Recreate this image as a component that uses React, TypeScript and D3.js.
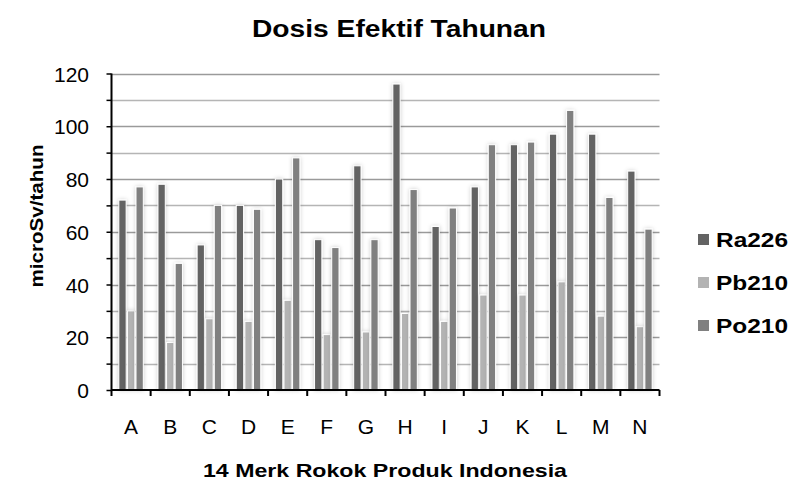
import * as d3 from 'd3'
import { useEffect, useRef } from 'react'

const categories = ['A', 'B', 'C', 'D', 'E', 'F', 'G', 'H', 'I', 'J', 'K', 'L', 'M', 'N']
const seriesNames = ['Ra226', 'Pb210', 'Po210']
const ra226 = [72, 78, 55, 70, 80, 57, 85, 116, 62, 77, 93, 97, 97, 83]
const pb210 = [30, 18, 27, 26, 34, 21, 22, 29, 26, 36, 36, 41, 28, 24]
const po210 = [77, 48, 70, 68.5, 88, 54, 57, 76, 69, 93, 94, 106, 73, 61]
const yTicks = [0, 20, 40, 60, 80, 100, 120]
const colors = ['#636363', '#b3b3b3', '#808080']

const App = () => {
  const ref = useRef<HTMLDivElement>(null)

  useEffect(() => {
    if (!ref.current) return
    document.body.style.margin = '0'
    document.body.style.overflow = 'hidden'
    d3.select(ref.current).select('svg').remove()

    const width = 792
    const height = 482
    const left = 111.5
    const right = 659.5
    const top = 73.5
    const bottom = 390

    const svg = d3
      .select(ref.current)
      .append('svg')
      .attr('width', width)
      .attr('height', height)
      .style('display', 'block')
      .style('font-family', 'Arial, "Liberation Sans", sans-serif')

    const defs = svg.append('defs')
    defs
      .append('filter')
      .attr('id', 'glow')
      .attr('x', '-60%')
      .attr('y', '-10%')
      .attr('width', '220%')
      .attr('height', '120%')
      .append('feDropShadow')
      .attr('dx', 0)
      .attr('dy', 0)
      .attr('stdDeviation', 2)
      .attr('flood-color', '#000')
      .attr('flood-opacity', 0.2)

    const x0 = d3.scaleBand().domain(categories).range([left, right]).paddingInner(0.375).paddingOuter(0.1875)
    const x1 = d3.scaleBand().domain(seriesNames).range([0, x0.bandwidth()]).paddingInner(0.15)
    const y = d3.scaleLinear().domain([0, 120]).range([bottom, top])

    // grid every 10
    const gridVals = d3.range(10, 121, 10)
    svg
      .append('g')
      .selectAll('line')
      .data(gridVals)
      .enter()
      .append('line')
      .attr('x1', left)
      .attr('x2', right)
      .attr('y1', (d) => Math.round(y(d)) + 0.5)
      .attr('y2', (d) => Math.round(y(d)) + 0.5)
      .attr('stroke', (d) => (d % 20 === 0 ? '#9a9a9a' : '#b5b5b5'))
      .attr('stroke-width', 1.3)

    const data = [ra226, pb210, po210]
    const rows = categories.map((c, i) => ({
      cat: c,
      vals: seriesNames.map((s, j) => ({ s, v: data[j][i], color: colors[j] })),
    }))

    const groups = svg
      .append('g')
      .selectAll('g')
      .data(rows)
      .enter()
      .append('g')
      .attr('transform', (d) => `translate(${x0(d.cat)},0)`)

    groups
      .selectAll('rect')
      .data((d) => d.vals)
      .enter()
      .append('rect')
      .attr('x', (d) => x1(d.s)!)
      .attr('width', x1.bandwidth())
      .attr('y', (d) => y(d.v))
      .attr('height', (d) => bottom - y(d.v))
      .attr('fill', (d) => d.color)
      .attr('stroke', '#fff')
      .attr('stroke-width', 1)
      .attr('filter', 'url(#glow)')

    // Y axis
    svg
      .append('g')
      .attr('transform', `translate(${left},0)`)
      .call(d3.axisLeft(y).tickValues(d3.range(0, 121, 10)).tickSize(5).tickFormat(() => ''))
      .call((g) => g.selectAll('line').attr('stroke', '#000').attr('stroke-width', 1.5))
      .call((g) => g.select('.domain').attr('stroke', '#000').attr('stroke-width', 2).attr('d', `M0,${bottom}V${top}`))

    svg
      .append('g')
      .selectAll('text')
      .data(yTicks)
      .enter()
      .append('text')
      .attr('x', 89)
      .attr('y', (d) => y(d) + 8)
      .attr('text-anchor', 'end')
      .style('font-size', '21px')
      .attr('fill', '#000')
      .text((d) => d)

    // X axis
    const bounds = d3.range(0, categories.length + 1).map((i) => left + i * x0.step())
    svg
      .append('line')
      .attr('x1', left)
      .attr('x2', right)
      .attr('y1', bottom)
      .attr('y2', bottom)
      .attr('stroke', '#000')
      .attr('stroke-width', 2)
    svg
      .append('g')
      .selectAll('line')
      .data(bounds)
      .enter()
      .append('line')
      .attr('x1', (d) => d)
      .attr('x2', (d) => d)
      .attr('y1', bottom)
      .attr('y2', bottom + 6)
      .attr('stroke', '#000')
      .attr('stroke-width', 2)

    svg
      .append('g')
      .selectAll('text')
      .data(categories)
      .enter()
      .append('text')
      .attr('x', (d) => x0(d)! + x0.bandwidth() / 2)
      .attr('y', 434)
      .attr('text-anchor', 'middle')
      .style('font-size', '21px')
      .text((d) => d)

    // titles
    svg
      .append('text')
      .attr('x', 399)
      .attr('y', 37)
      .attr('text-anchor', 'middle')
      .attr('textLength', 294)
      .attr('lengthAdjust', 'spacingAndGlyphs')
      .style('font-size', '23px')
      .style('font-weight', 'bold')
      .style('letter-spacing', '0')
      .text('Dosis Efektif Tahunan')

    svg
      .append('text')
      .attr('x', 385)
      .attr('y', 477)
      .attr('text-anchor', 'middle')
      .attr('textLength', 364)
      .attr('lengthAdjust', 'spacingAndGlyphs')
      .style('font-size', '19px')
      .style('font-weight', 'bold')
      .text('14 Merk Rokok Produk Indonesia')

    svg
      .append('text')
      .attr('transform', `translate(43,216) rotate(-90)`)
      .attr('text-anchor', 'middle')
      .attr('textLength', 143)
      .attr('lengthAdjust', 'spacingAndGlyphs')
      .style('font-size', '19px')
      .style('font-weight', 'bold')
      .text('microSv/tahun')

    // legend
    const legend = svg
      .append('g')
      .selectAll('g')
      .data(seriesNames)
      .enter()
      .append('g')
      .attr('transform', (d, i) => `translate(698,${247 + i * 43})`)
    legend
      .append('rect')
      .attr('x', 0)
      .attr('y', -13)
      .attr('width', 11)
      .attr('height', 11)
      .attr('fill', (d, i) => colors[i])
    legend
      .append('text')
      .attr('x', 18)
      .attr('y', 0)
      .attr('textLength', 72)
      .attr('lengthAdjust', 'spacingAndGlyphs')
      .style('font-size', '21px')
      .style('font-weight', 'bold')
      .text((d) => d)
  }, [])

  return <div ref={ref} />
}

export default App
